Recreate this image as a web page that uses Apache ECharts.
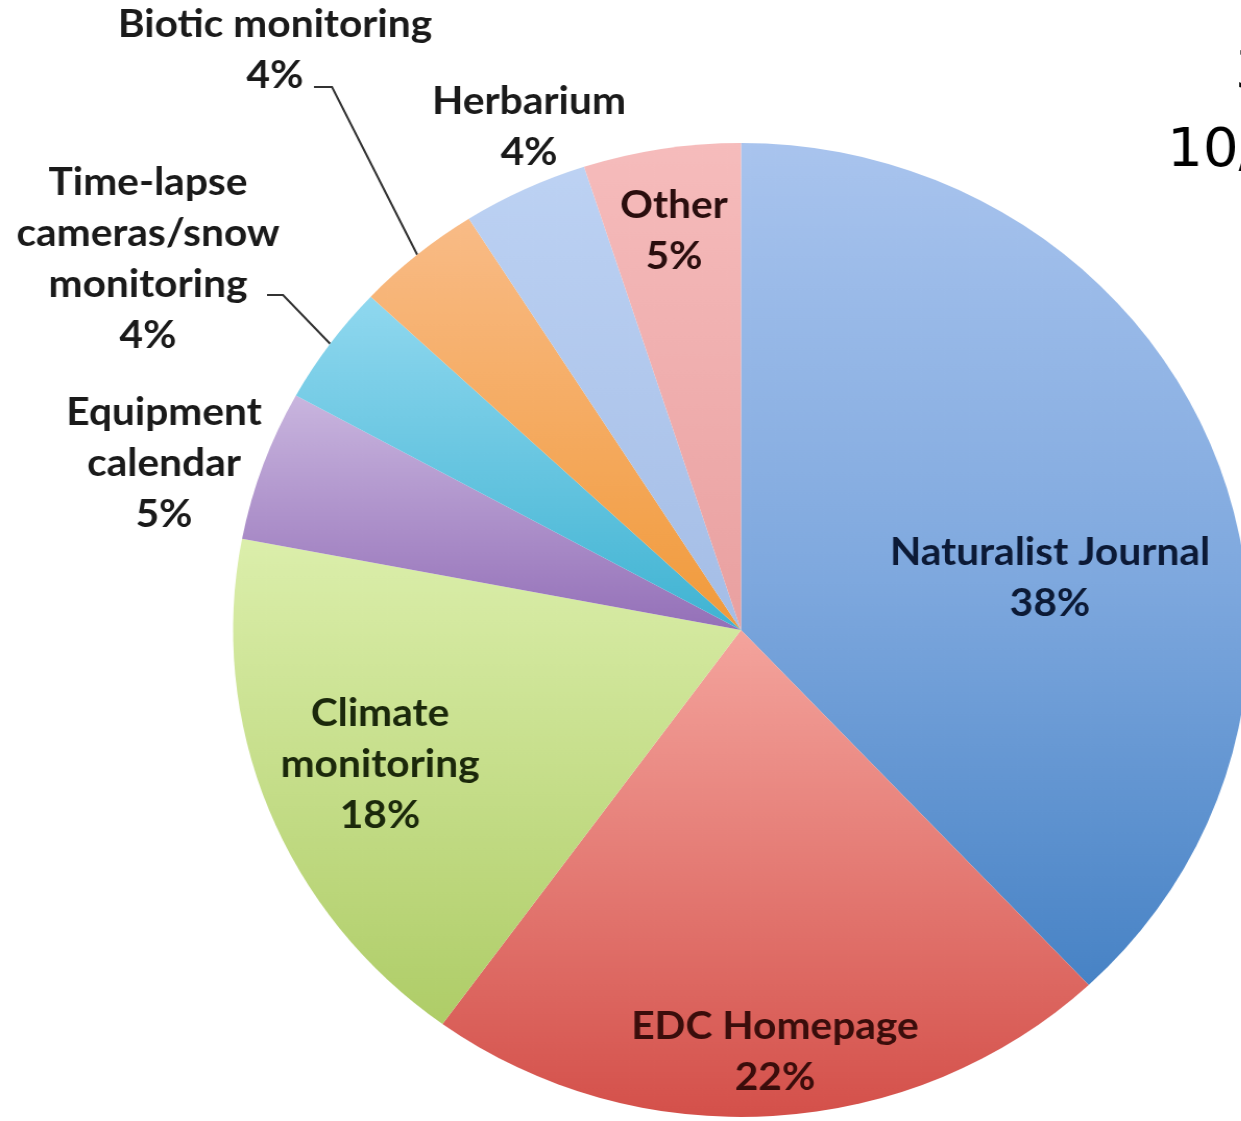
<!DOCTYPE html>
<html>
<head>
<meta charset="utf-8">
<script src="https://cdn.jsdelivr.net/npm/echarts@6/dist/echarts.min.js"></script>
<style>
  html, body { margin: 0; padding: 0; background: #ffffff; overflow: hidden; }
  #wrap { width: 1241px; height: 1121px; overflow: hidden; position: relative; }
  #chart { position: absolute; left: 0; top: 0; height: 1121px; transform-origin: 0 0; }
</style>
</head>
<body>
<div id="wrap"><div id="chart"></div></div>
<script>
// ---- data ----
const categories = ['Naturalist Journal', 'EDC Homepage', 'Climate monitoring', 'Equipment calendar',
  'Time-lapse cameras/snow monitoring', 'Biotic monitoring', 'Herbarium', 'Other'];
const labelNames = ['Naturalist Journal', 'EDC Homepage', 'Climate\nmonitoring', 'Equipment\ncalendar',
  'Time-lapse\ncameras/snow\nmonitoring', 'Biotic monitoring', 'Herbarium', 'Other'];
const shares = [38, 22, 18, 5, 4, 4, 4, 5];
const cornerLines = ['3', '10/'];

// ---- layout / style (page pixels) ----
const STRETCH = 1.043;                 // reference pie is slightly wider than tall
const PAGE_W = 1241;
const CENTER = [741, 630];
const RADIUS = 487;
const LABEL_ANCHORS = [[1050, 578], [775, 1052], [380, 764], [164, 463], [148, 259], [275, 50], [529, 127], [674, 231]];
const LINE_BENDS = { 4: [[283, 295], [267, 295]], 5: [[332, 87], [314, 87]] };
const TEXT_COLORS = ['#0c1a36', '#3a0d0b', '#1b280b', '#1a1a1a', '#1a1a1a', '#1a1a1a', '#1a1a1a', '#2a0e0e'];
const GRADIENTS = [
  [[0, '#a9c4ee'], [0.45, '#7ea8de'], [0.85, '#4984c6'], [1, '#3f7bbf']],
  [[0, '#f9b9b4'], [0.5, '#f4a49d'], [1, '#d4504a']],
  [[0.4, '#dcefac'], [0.9, '#afcd68'], [1, '#a8c85f']],
  [[0.25, '#cbb8e0'], [0.5, '#9470b8']],
  [[0.15, '#92d9f0'], [0.5, '#3fb3d2']],
  [[0.07, '#f9bc88'], [0.5, '#f19a3a']],
  [[0, '#bed3f4'], [0.5, '#a4bde6']],
  [[0, '#f6bcbc'], [0.5, '#e9a0a0']]
];

const chartW = PAGE_W / STRETCH;
const el = document.getElementById('chart');
el.style.width = chartW + 'px';
el.style.transform = 'scaleX(' + STRETCH + ')';
const px = x => x / STRETCH;

const chart = echarts.init(el, null, { renderer: 'canvas' });

const pieTop = CENTER[1] - RADIUS, pieBottom = CENTER[1] + RADIUS;
const data = categories.map((name, i) => ({
  name: name,
  value: shares[i],
  itemStyle: {
    color: {
      type: 'linear', x: 0, y: pieTop, x2: 0, y2: pieBottom, global: true,
      colorStops: GRADIENTS[i].map(s => ({ offset: s[0], color: s[1] }))
    }
  },
  label: { color: TEXT_COLORS[i] },
  labelLine: { show: LINE_BENDS[i] !== undefined }
}));

chart.setOption({
  animation: false,
  backgroundColor: '#ffffff',
  graphic: [
    { type: 'text', x: px(1235), y: 74, style: { text: cornerLines[0], fontSize: 54, fontFamily: 'DejaVu Sans', fill: '#000', textAlign: 'left', textVerticalAlign: 'middle' } },
    { type: 'text', x: px(1167), y: 152, style: { text: cornerLines[1], fontSize: 54, fontFamily: 'DejaVu Sans', fill: '#000', textAlign: 'left', textVerticalAlign: 'middle' } }
  ],
  series: [{
    type: 'pie',
    center: [px(CENTER[0]), CENTER[1]],
    radius: RADIUS,
    startAngle: 90,
    clockwise: true,
    avoidLabelOverlap: false,
    percentPrecision: 0,
    emphasis: { disabled: true },
    data: data,
    label: {
      show: true,
      position: 'outside',
      formatter: p => labelNames[p.dataIndex] + '\n' + p.percent + '%',
      fontFamily: 'Lato',
      fontWeight: 'bold',
      fontSize: 39,
      lineHeight: 51,
      align: 'center'
    },
    labelLine: {
      show: false,
      length: 20,
      length2: 20,
      lineStyle: { color: '#333333', width: 2 }
    },
    labelLayout: function (params) {
      const i = params.dataIndex;
      const a = LABEL_ANCHORS[i];
      const out = { x: px(a[0]), y: a[1], align: 'center', verticalAlign: 'middle' };
      if (LINE_BENDS[i] && params.labelLinePoints) {
        const start = params.labelLinePoints[0];
        out.labelLinePoints = [start].concat(LINE_BENDS[i].map(p => [px(p[0]), p[1]]));
      }
      return out;
    }
  }]
});
</script>
</body>
</html>
